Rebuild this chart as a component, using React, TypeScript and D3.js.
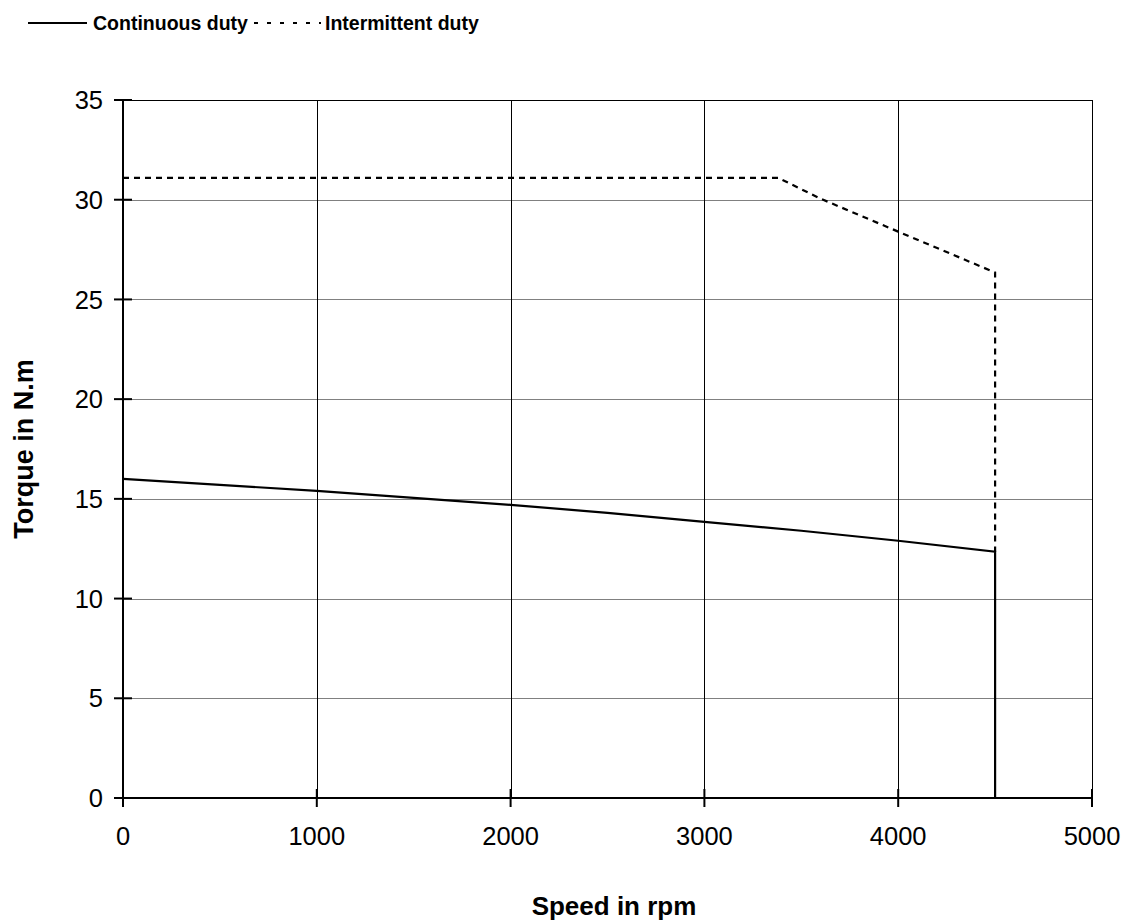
import React from 'react';
import * as d3 from 'd3';

// chart values
const speedTicks = [0, 1000, 2000, 3000, 4000, 5000];
const torqueTicks = [0, 5, 10, 15, 20, 25, 30, 35];

const continuousSpeed = [0, 500, 1000, 1500, 2000, 2500, 3000, 3500, 4000, 4500, 4500];
const continuousTorque = [16.0, 15.7, 15.4, 15.05, 14.7, 14.3, 13.85, 13.4, 12.9, 12.35, 0];

const intermittentSpeed = [0, 3380, 3600, 4000, 4500, 4500];
const intermittentTorque = [31.1, 31.1, 30.05, 28.4, 26.35, 12.35];

const legendLabels = ['Continuous duty', 'Intermittent duty'];

const W = 1125;
const H = 923;
const FONT = '"Liberation Sans", Arial, Helvetica, sans-serif';

const App = () => {
  const x = d3.scaleLinear().domain([0, 5000]).range([123, 1092]);
  const y = d3.scaleLinear().domain([0, 35]).range([798, 100]);

  const line = d3.line<[number, number]>()
    .x(d => x(d[0]))
    .y(d => y(d[1]));

  const contPts = continuousSpeed.map((s, i) => [s, continuousTorque[i]] as [number, number]);
  const interPts = intermittentSpeed.map((s, i) => [s, intermittentTorque[i]] as [number, number]);

  return (
    <svg width={W} height={H} style={{ position: 'absolute', left: 0, top: 0, background: '#fff' }}
      fontFamily={FONT}>
      {/* horizontal grid */}
      {torqueTicks.filter(t => t > 0).map(t => (
        <line key={'h' + t} x1={x(0)} x2={x(5000)} y1={Math.round(y(t)) + 0.5} y2={Math.round(y(t)) + 0.5}
          stroke={t === 35 ? '#000' : '#808080'} strokeWidth={1} />
      ))}
      {/* vertical grid */}
      {speedTicks.filter(t => t > 0).map(t => (
        <line key={'v' + t} x1={Math.round(x(t)) + 0.5} x2={Math.round(x(t)) + 0.5} y1={y(35)} y2={y(0)}
          stroke="#000" strokeWidth={1} />
      ))}

      {/* axes */}
      <line x1={x(0)} x2={x(0)} y1={y(35)} y2={y(0) + 9} stroke="#000" strokeWidth={2} />
      <line x1={x(0) - 9} x2={x(5000)} y1={y(0)} y2={y(0)} stroke="#000" strokeWidth={2} />
      {torqueTicks.map(t => (
        <line key={'yt' + t} x1={x(0) - 9} x2={x(0) + 9} y1={y(t)} y2={y(t)} stroke="#000" strokeWidth={2} />
      ))}
      {speedTicks.map(t => (
        <line key={'xt' + t} x1={x(t)} x2={x(t)} y1={y(0) - 9} y2={y(0) + 9} stroke="#000" strokeWidth={2} />
      ))}

      {/* tick labels */}
      {torqueTicks.map(t => (
        <text key={'yl' + t} x={103} y={y(t)} dy="0.36em" textAnchor="end" fontSize={25.5} fill="#000">{t}</text>
      ))}
      {speedTicks.map(t => (
        <text key={'xl' + t} x={x(t)} y={845} textAnchor="middle" fontSize={25.5} fill="#000">{t}</text>
      ))}

      {/* series */}
      <path d={line(interPts) || ''} fill="none" stroke="#000" strokeWidth={2.2} strokeDasharray="6,5" />
      <path d={line(contPts) || ''} fill="none" stroke="#000" strokeWidth={2.2} />

      {/* axis titles */}
      <text x={614} y={915} textAnchor="middle" fontSize={26} fontWeight="bold" fill="#000">Speed in rpm</text>
      <text transform={`translate(33, ${y(17.5)}) rotate(-90)`} textAnchor="middle" fontSize={27}
        fontWeight="bold" fill="#000">Torque in N.m</text>

      {/* legend */}
      <line x1={28} x2={87} y1={23} y2={23} stroke="#000" strokeWidth={2} />
      <text x={93} y={30} fontSize={19.5} fontWeight="bold" fill="#000">{legendLabels[0]}</text>
      <line x1={254} x2={321} y1={23} y2={23} stroke="#000" strokeWidth={2} strokeDasharray="4,9" />
      <text x={325} y={30} fontSize={19.5} fontWeight="bold" fill="#000">{legendLabels[1]}</text>
    </svg>
  );
};

export default App;
